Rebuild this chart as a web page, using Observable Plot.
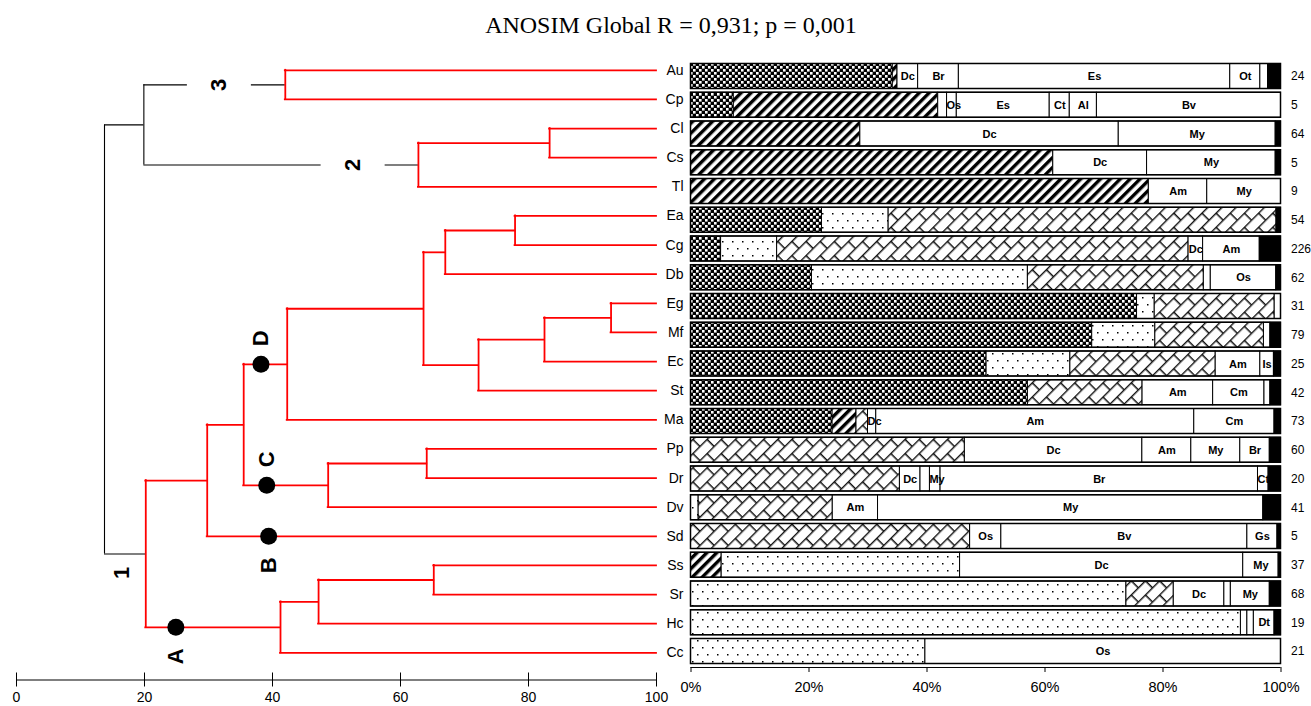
<!DOCTYPE html>
<html><head><meta charset="utf-8">
<script src="https://cdn.jsdelivr.net/npm/d3@7"></script>
<script src="https://cdn.jsdelivr.net/npm/@observablehq/plot@0.6"></script>
<style>
body{margin:0;background:#fff;}
#wrap{position:relative;width:1311px;height:706px;overflow:hidden;font-family:"Liberation Sans",Arial,sans-serif;}
#title{position:absolute;left:0;top:9px;width:1342px;text-align:center;font-family:"Liberation Serif","Times New Roman",serif;font-size:24px;line-height:32px;color:#000;}
</style></head>
<body>
<svg width="0" height="0" style="position:absolute;left:0;top:0">
<defs>
 <pattern id="pChk" patternUnits="userSpaceOnUse" width="6" height="6">
  <rect width="6" height="6" fill="#000"/>
  <rect x="0" y="0" width="2.6" height="2.6" fill="#fff"/>
  <rect x="3" y="3" width="2.6" height="2.6" fill="#fff"/>
 </pattern>
 <pattern id="pStr" patternUnits="userSpaceOnUse" width="7" height="7" patternTransform="rotate(45)">
  <rect width="7" height="7" fill="#fff"/>
  <rect x="0" y="0" width="3.4" height="7" fill="#000"/>
 </pattern>
 <pattern id="pDot" patternUnits="userSpaceOnUse" width="10" height="14">
  <rect width="10" height="14" fill="#fff"/>
  <rect x="2" y="3" width="1.5" height="1.5" fill="#000"/>
  <rect x="7" y="10" width="1.5" height="1.5" fill="#000"/>
 </pattern>
 <pattern id="pBrk" patternUnits="userSpaceOnUse" width="20" height="20" patternTransform="rotate(45)">
  <rect width="20" height="20" fill="#fff"/>
  <path d="M0.7,0 V20 M10.7,0 V20 M0.7,0.7 H10.7 M10.7,10.7 H20" stroke="#111" stroke-width="1.4" fill="none"/>
 </pattern>
</defs></svg>
<div id="wrap"><div id="title">ANOSIM Global R = 0,931; p = 0,001</div></div>
<script>
// ---------- data ----------
const leaves = ["Au","Cp","Cl","Cs","Tl","Ea","Cg","Db","Eg","Mf","Ec","St","Ma","Pp","Dr","Dv","Sd","Ss","Sr","Hc","Cc"];
const nSamples = [24,5,64,5,9,54,226,62,31,79,25,42,73,60,20,41,5,37,68,19,21];

// dendrogram merges: [node id, child a, child b, height]
const merges = [
  ["n1","Au","Cp",42.0],
  ["n2","Cl","Cs",83.3],
  ["n3","n2","Tl",62.8],
  ["n4","n1","n3",19.9],
  ["n5","Ea","Cg",77.9],
  ["n6","n5","Db",67.0],
  ["n7","Eg","Mf",92.9],
  ["n8","n7","Ec",82.5],
  ["n9","n8","St",72.2],
  ["n10","n6","n9",63.6],
  ["n11","n10","Ma",42.3],
  ["n12","Pp","Dr",64.1],
  ["n13","n12","Dv",48.7],
  ["n14","n11","n13",35.5],
  ["n15","n14","Sd",29.8],
  ["n16","Ss","Sr",65.2],
  ["n17","n16","Hc",47.2],
  ["n18","n17","Cc",41.25],
  ["n19","n15","n18",20.2],
  ["root","n4","n19",13.75]
];
const blackNodes = ["root","n4"];

const clusterNames = ["3","2","1"];
const clusterBranch = ["n1","n3","n19"];
const clusterLabelX = [31.7, 52.6, 16.5];
const clusterGap = [true, true, false];

const groupNames = ["A","B","C","D"];
const groupBranch = ["n18","Sd","n13","n11"];
const groupDotX = [24.9, 39.4, 39.1, 38.2];
const groupSide = ["below","below","above","above"];

const axisTicks = [0,20,40,60,80,100];

// bar segments: [kind or label, cumulative end %]
const segAu = [["chk",34.2],["str",35.0],["Dc",38.5],["Br",45.4],["Es",91.4],["Ot",96.5],["",97.8],["blk",100]];
const segCp = [["chk",7.25],["str",41.9],["",43.4],["Os",45.05],["Es",60.8],["Ct",64.2],["Al",68.8],["Bv",100]];
const segCl = [["str",28.7],["Dc",72.5],["My",99.1],["blk",100]];
const segCs = [["str",61.4],["Dc",77.3],["My",99.1],["blk",100]];
const segTl = [["str",77.6],["Am",87.5],["My",100]];
const segEa = [["chk",22.2],["dot",33.5],["brk",99.2],["blk",100]];
const segCg = [["chk",5.1],["dot",14.6],["brk",84.3],["Dc",86.8],["Am",96.4],["blk",100]];
const segDb = [["chk",20.5],["dot",57.1],["brk",86.9],["",88.1],["Os",99.2],["blk",100]];
const segEg = [["chk",75.6],["dot",78.6],["brk",98.9],["",100]];
const segMf = [["chk",68.0],["dot",78.7],["brk",97.1],["",98.2],["blk",100]];
const segEc = [["chk",50.1],["dot",64.3],["brk",88.9],["Am",96.5],["Is",98.8],["blk",100]];
const segSt = [["chk",57.1],["brk",76.5],["Am",88.5],["Cm",97.2],["",98.2],["blk",100]];
const segMa = [["chk",24.0],["str",28.05],["brk",30.0],["Dc",31.4],["Am",85.3],["Cm",98.9],["blk",100]];
const segPp = [["brk",46.4],["Dc",76.5],["Am",84.8],["My",93.1],["Br",98.1],["blk",100]];
const segDr = [["brk",35.4],["Dc",38.9],["",40.5],["My",42.3],["Br",96.1],["Ct",97.9],["blk",100]];
const segDv = [["dot",1.3],["brk",24.0],["Am",31.7],["My",97.0],["blk",100]];
const segSd = [["brk",47.3],["Os",52.6],["Bv",94.3],["Gs",99.4],["blk",100]];
const segSs = [["str",5.2],["dot",45.6],["Dc",93.6],["My",99.6],["blk",100]];
const segSr = [["dot",73.8],["brk",81.8],["Dc",90.4],["",91.5],["My",98.1],["blk",100]];
const segHc = [["dot",93.2],["",94.3],["",95.4],["Dt",98.9],["blk",100]];
const segCc = [["dot",39.7],["Os",100]];
const rowSegs = [segAu,segCp,segCl,segCs,segTl,segEa,segCg,segDb,segEg,segMf,segEc,segSt,segMa,segPp,segDr,segDv,segSd,segSs,segSr,segHc,segCc];

// ---------- dendrogram geometry ----------
const pos = new Map();
leaves.forEach((l, i) => pos.set(l, {x: 100, y: i}));
const vsegs = [], hsegs = [];
for (const [id, a, b, h] of merges) {
  const pa = pos.get(a), pb = pos.get(b);
  pos.set(id, {x: h, y: (pa.y + pb.y) / 2});
  const col = blackNodes.includes(id) ? "black" : "red";
  vsegs.push({x: h, y1: pa.y, y2: pb.y, col});
  for (const [cid, pc] of [[a, pa], [b, pb]]) {
    const k = clusterBranch.indexOf(cid);
    if (k >= 0 && clusterGap[k]) {
      const gx = clusterLabelX[k];
      hsegs.push({x1: h, x2: gx - 5, y: pc.y, col});
      hsegs.push({x1: gx + 5, x2: pc.x, y: pc.y, col});
    } else {
      hsegs.push({x1: h, x2: pc.x, y: pc.y, col});
    }
  }
}
const clusters = clusterNames.map((n, k) => ({name: n, x: clusterLabelX[k], y: pos.get(clusterBranch[k]).y, gap: clusterGap[k]}));
const groups = groupNames.map((n, k) => ({name: n, x: groupDotX[k], y: pos.get(groupBranch[k]).y, side: groupSide[k]}));

const baseStyle = {background: "transparent", position: "absolute", left: "0px", top: "0px", overflow: "visible",
  fontFamily: "'Liberation Sans', Arial, sans-serif", fontSize: "14px", color: "black"};

const dendro = Plot.plot({
  width: 1311, height: 706,
  marginLeft: 16, marginRight: 655, marginTop: 69.8, marginBottom: 26.5,
  x: {domain: [0, 100], label: null},
  y: {domain: [0, 20], reverse: true, insetBottom: 27.2, axis: null, label: null},
  style: baseStyle,
  marks: [
    Plot.ruleY([20], {dy: 27.2, stroke: "black", strokeWidth: 1.2}),
    Plot.axisX({ticks: axisTicks, tickSize: 14, dy: -7, tickPadding: 5, fontSize: 14}),
    Plot.ruleX(vsegs.filter(d => d.col === "black"), {x: "x", y1: "y1", y2: "y2", stroke: "black", strokeWidth: 1.1}),
    Plot.ruleY(hsegs.filter(d => d.col === "black"), {y: "y", x1: "x1", x2: "x2", stroke: "black", strokeWidth: 1.1}),
    Plot.ruleX(vsegs.filter(d => d.col === "red"), {x: "x", y1: "y1", y2: "y2", stroke: "red", strokeWidth: 1.8, strokeLinecap: "square"}),
    Plot.ruleY(hsegs.filter(d => d.col === "red"), {y: "y", x1: "x1", x2: "x2", stroke: "red", strokeWidth: 1.8, strokeLinecap: "square"}),
    Plot.dot(groups, {x: "x", y: "y", r: 8.5, fill: "black", stroke: "none"}),
    Plot.text(groups.filter(d => d.side === "below"), {x: "x", y: "y", text: "name", rotate: -90, dy: 29, fontSize: 22, fontWeight: "bold"}),
    Plot.text(groups.filter(d => d.side === "above"), {x: "x", y: "y", text: "name", rotate: -90, dy: -26, fontSize: 22, fontWeight: "bold"}),
    Plot.text(clusters.filter(d => d.gap), {x: "x", y: "y", text: "name", rotate: -90, fontSize: 22, fontWeight: "bold"}),
    Plot.text(clusters.filter(d => !d.gap), {x: "x", y: "y", text: "name", rotate: -90, dy: 19, fontSize: 22, fontWeight: "bold"}),
    Plot.text(leaves, {x: () => 100, y: (d, i) => i, text: d => d, dx: 27, textAnchor: "end", fontSize: 14})
  ]
});

// ---------- bars ----------
const segs = [];
rowSegs.forEach((row, i) => {
  let prev = 0;
  for (const [kind, end] of row) { segs.push({i, kind, x1: prev, x2: end}); prev = end; }
});
const fillOf = k => ({chk: "url(#pChk)", str: "url(#pStr)", dot: "url(#pDot)", brk: "url(#pBrk)", blk: "black"}[k] || "white");
const fills = [...new Set(segs.map(d => fillOf(d.kind)))];
const patternKinds = ["chk","str","dot","brk","blk",""];
const labeled = segs.filter(d => !patternKinds.includes(d.kind));
const half = 0.435;

const bars = Plot.plot({
  width: 1311, height: 706,
  marginLeft: 690.5, marginRight: 30.5, marginTop: 76, marginBottom: 39,
  x: {domain: [0, 100], label: null},
  y: {domain: [0, 20], reverse: true, insetBottom: 16, axis: null, label: null},
  style: baseStyle,
  marks: [
    ...fills.map(f => Plot.rect(segs.filter(d => fillOf(d.kind) === f), {
      x1: "x1", x2: "x2", y1: d => d.i - half, y2: d => d.i + half, fill: f, stroke: "black", strokeWidth: 1})),
    Plot.rect(leaves, {x1: () => 0, x2: () => 100, y1: (d, i) => i - half, y2: (d, i) => i + half, fill: "none", stroke: "black", strokeWidth: 1.5}),
    Plot.text(labeled.filter(d => d.x2 - d.x1 >= 2), {x: d => (d.x1 + d.x2) / 2, y: "i", text: "kind", fontSize: 11, fontWeight: "bold"}),
    Plot.text(labeled.filter(d => d.x2 - d.x1 < 2), {x: "x1", y: "i", text: "kind", dx: -0.5, textAnchor: "start", fontSize: 11, fontWeight: "bold"}),
    Plot.text(nSamples, {x: () => 100, y: (d, i) => i, text: d => String(d), dx: 10, textAnchor: "start", fontSize: 12}),
    Plot.ruleY([20], {dy: 16, stroke: "black", strokeWidth: 1.2}),
    Plot.axisX({ticks: axisTicks, tickFormat: d => d + "%", tickSize: 5, tickPadding: 9, fontSize: 14.5})
  ]
});

const wrap = document.getElementById("wrap");
wrap.appendChild(dendro);
wrap.appendChild(bars);
</script>
</body></html>
